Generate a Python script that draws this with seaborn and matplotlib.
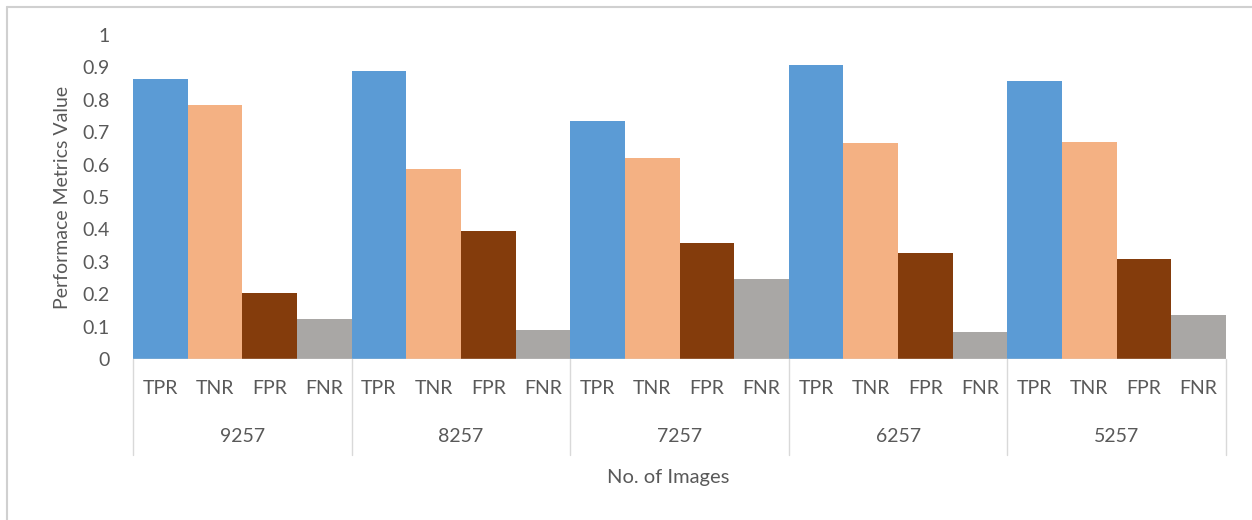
import matplotlib
matplotlib.use("Agg")
import matplotlib.pyplot as plt
import matplotlib.transforms as mtransforms
from matplotlib.lines import Line2D
import seaborn as sns
import pandas as pd

groups = ["9257", "8257", "7257", "6257", "5257"]
metrics = ["TPR", "TNR", "FPR", "FNR"]
tpr = [0.863, 0.889, 0.735, 0.906, 0.858]
tnr = [0.783, 0.585, 0.621, 0.666, 0.671]
fpr = [0.203, 0.395, 0.357, 0.326, 0.308]
fnr = [0.123, 0.090, 0.246, 0.084, 0.136]
yticks = [0, 0.1, 0.2, 0.3, 0.4, 0.5, 0.6, 0.7, 0.8, 0.9, 1]
ytick_labels = ["0", "0.1", "0.2", "0.3", "0.4", "0.5", "0.6", "0.7", "0.8", "0.9", "1"]

colors = ["#5B9BD5", "#F4B183", "#843C0C", "#A9A7A5"]
text_color = "#595959"

rows = []
for m, vals in zip(metrics, [tpr, tnr, fpr, fnr]):
    for g, v in zip(groups, vals):
        rows.append({"group": g, "metric": m, "value": v})
df = pd.DataFrame(rows)

sns.set_theme(style="white")
plt.rcParams["font.family"] = ["Lato", "DejaVu Sans"]

fig = plt.figure(figsize=(12.52, 5.2), dpi=100)
ax = fig.add_axes([133 / 1252, 1 - 359 / 520, (1226 - 133) / 1252, (359 - 35) / 520])

sns.barplot(data=df, x="group", y="value", hue="metric", order=groups,
            hue_order=metrics, palette=colors, width=1.0, gap=0,
            saturation=1, legend=False, ax=ax, linewidth=0)

ax.set_xlim(-0.5, len(groups) - 0.5)
ax.set_ylim(0, 1)
ax.set_yticks(yticks)
ax.set_yticklabels(ytick_labels, fontsize=14, color=text_color)
ax.tick_params(axis="y", length=0, pad=16.5)
ax.set_xticks([])
ax.set_xlabel("")
ax.set_ylabel("Performace Metrics Value", fontsize=14, color=text_color)
ax.yaxis.set_label_coords((71 - 133) / 1093, 0.5)
for s in ax.spines.values():
    s.set_visible(False)

trans = mtransforms.blended_transform_factory(ax.transData, fig.transFigure)
line_c = "#D9D9D9"
# bottom axis line
ax.axhline(0, color=line_c, lw=1)
# separators
for i in range(len(groups) + 1):
    x = i - 0.5
    ax.add_line(Line2D([x, x], [1 - 359 / 520, 1 - 455 / 520], transform=trans,
                       color=line_c, lw=1, clip_on=False))
# sub-category labels and group labels
for i, g in enumerate(groups):
    for j, m in enumerate(metrics):
        xc = i - 0.5 + 0.125 + 0.25 * j
        ax.text(xc, 1 - 389 / 520, m, transform=trans, ha="center", va="center",
                fontsize=14, color=text_color)
    ax.text(i, 1 - 437 / 520, g, transform=trans, ha="center", va="center",
            fontsize=14, color=text_color)

fig.text(668 / 1252, 1 - 477 / 520, "No. of Images", ha="center", va="center",
         fontsize=14.5, color=text_color)

# outer chart border (top and left)
fig.add_artist(Line2D([7 / 1252, 1], [1 - 7 / 520, 1 - 7 / 520], transform=fig.transFigure,
                      color="#D0D0D0", lw=1.5))
fig.add_artist(Line2D([7 / 1252, 7 / 1252], [0, 1 - 7 / 520], transform=fig.transFigure,
                      color="#D0D0D0", lw=1.5))

fig.savefig("out.png", dpi=100, facecolor="white")
